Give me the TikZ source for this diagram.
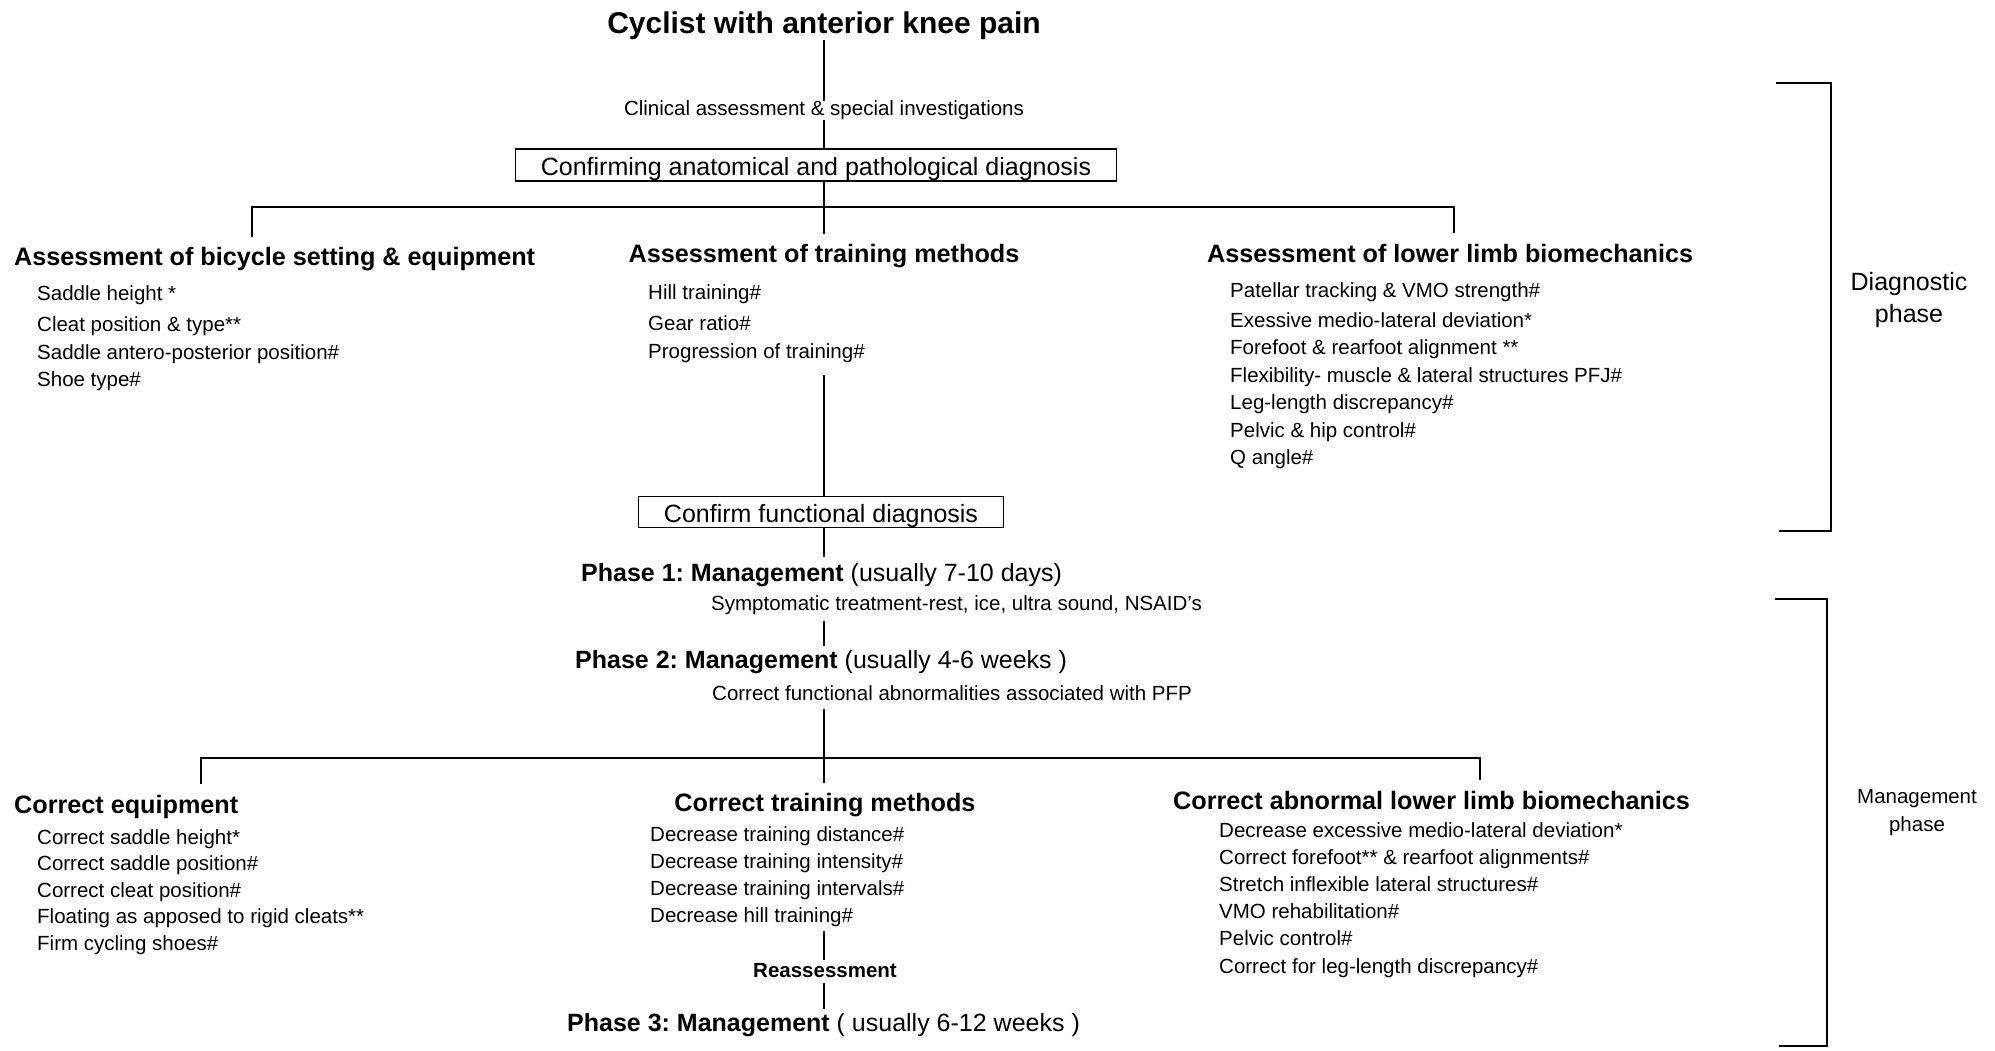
\documentclass[tikz,border=0pt]{standalone}
\usepackage{fontspec}
\setmainfont{Liberation Sans}
\usetikzlibrary{positioning}
\frenchspacing

\begin{document}
\begin{tikzpicture}[
        x=1pt, y=-1pt,
        maintitle/.style={font=\fontsize{30}{36}\selectfont\bfseries, inner sep=0pt, yshift=-2.5pt},
        secthead/.style={font=\fontsize{25.2}{30}\selectfont\bfseries, inner sep=0pt, outer ysep=11pt, yshift=-2.5pt},
        itemlist/.style={font=\fontsize{20.5}{27.5}\selectfont, align=left, inner sep=0pt, anchor=north west, yshift=-2pt},
        diagbox/.style={rectangle, draw, line width=1.6pt, font=\fontsize{25}{30}\selectfont, inner sep=0pt, text height=23pt, text depth=2pt},
        phasetext/.style={font=\fontsize{25}{30}\selectfont, inner sep=0pt, anchor=west, yshift=-2.5pt},
        note/.style={font=\fontsize{20.5}{24}\selectfont, inner sep=0pt, yshift=-2.5pt},
        sidelabel/.style={align=center, inner sep=0pt, yshift=-3pt},
        conn/.style={line width=1.6pt}
    ]
        \fill[white] (0,0) rectangle (1995,1050);
        \useasboundingbox (0,0) rectangle (1995,1050);
        \coordinate (spine) at (824,0);

        % Diagnostic part
        \node[maintitle] (cyclist) at (824,23) {Cyclist with anterior knee pain};
        \node[note] (clinical) at (824,108) {Clinical assessment \& special investigations};
        \node[diagbox, minimum width=601pt, minimum height=32pt] (anatomical) at (816,165) {Confirming anatomical and pathological diagnosis};

        \node[secthead, anchor=west] (bikehead) at (14,257) {Assessment of bicycle setting \& equipment};
        \node[secthead] (trainhead) at (824,254) {Assessment of training methods};
        \node[secthead, anchor=west] (limbhead) at (1207,251) {Assessment of lower limb biomechanics};

        \node[itemlist] (bikelist) at (37,283) {Saddle height *\\[4pt] Cleat position \& type**\\ Saddle antero-posterior position\#\\ Shoe type\#};
        \node[itemlist] (trainlist) at (648,282) {Hill training\#\\[4pt] Gear ratio\#\\ Progression of training\#};
        \node[itemlist] (limblist) at (1230,280) {Patellar tracking \& VMO strength\#\\[2.5pt] Exessive medio-lateral deviation*\\ Forefoot \& rearfoot alignment **\\ Flexibility- muscle \& lateral structures PFJ\#\\ Leg-length discrepancy\#\\ Pelvic \& hip control\#\\ Q angle\#};

        \node[diagbox, minimum width=365pt, minimum height=31pt] (functional) at (821,512) {Confirm functional diagnosis};

        % Management part
        \node[phasetext] (phaseone) at (581,573) {\textbf{Phase 1: Management} (usually 7-10 days)};
        \node[note, anchor=west] (symptoms) at (711,603) {Symptomatic treatment-rest, ice, ultra sound, NSAID's};
        \node[phasetext] (phasetwo) at (575,660) {\textbf{Phase 2: Management} (usually 4-6 weeks )};
        \node[note, anchor=west] (abnormal) at (712,691) {Correct functional abnormalities associated with PFP};

        \node[secthead, anchor=west] (equiphead) at (14,804) {Correct equipment};
        \node[secthead] (methodhead) at (825,803) {Correct training methods};
        \node[secthead, anchor=west] (biohead) at (1173,798) {Correct abnormal lower limb biomechanics};

        \node[itemlist, font=\fontsize{20.5}{26.5}\selectfont] (equiplist) at (37,827) {Correct saddle height*\\ Correct saddle position\#\\ Correct cleat position\#\\ Floating as apposed to rigid cleats**\\ Firm cycling shoes\#};
        \node[itemlist, font=\fontsize{20.5}{27.3}\selectfont] (methodlist) at (650,824) {Decrease training distance\#\\ Decrease training intensity\#\\ Decrease training intervals\#\\ Decrease hill training\#};
        \node[itemlist, font=\fontsize{20.5}{27.2}\selectfont] (biolist) at (1219,820) {Decrease excessive medio-lateral deviation*\\ Correct forefoot** \& rearfoot alignments\#\\ Stretch inflexible lateral structures\#\\ VMO rehabilitation\#\\ Pelvic control\#\\ Correct for leg-length discrepancy\#};

        \node[note, font=\fontsize{20.5}{24}\selectfont\bfseries] (reassess) at (825,968) {Reassessment};
        \node[phasetext] (phasethree) at (567,1023) {\textbf{Phase 3: Management} ( usually 6-12 weeks )};

        % Phase labels
        \node[sidelabel, font=\fontsize{25}{32}\selectfont] (diagphase) at (1909,297) {Diagnostic\\phase};
        \node[sidelabel, font=\fontsize{20.5}{28}\selectfont] (mgmtphase) at (1917,810) {Management\\phase};

        % Connectors
        \coordinate (bikedrop) at (252,207);
        \coordinate (limbdrop) at (1454,207);
        \coordinate (equipdrop) at (201,758);
        \coordinate (biodrop) at (1480,758);

        \draw[conn] (cyclist) -- (clinical);
        \draw[conn] (clinical) -- (clinical |- anatomical.north);
        \draw[conn] (anatomical.south -| spine) -- (trainhead.north -| spine);
        \draw[conn] (bikedrop |- bikehead.north) -- (bikedrop) -- (limbdrop) -- (limbdrop |- limbhead.north);
        \draw[conn, shorten <=12pt] (trainlist.south -| spine) -- (functional.north -| spine);
        \draw[conn, shorten >=7pt] (functional.south -| spine) -- (phaseone.north -| spine);
        \draw[conn, shorten <=6pt, shorten >=5pt] (symptoms.south -| spine) -- (phasetwo.north -| spine);
        \draw[conn, shorten <=8pt] (abnormal.south -| spine) -- (methodhead.north -| spine);
        \draw[conn] (equipdrop |- equiphead.north) -- (equipdrop) -- (biodrop) -- (biodrop |- biohead.north);
        \draw[conn, shorten <=4pt, shorten >=3pt] (methodlist.south -| spine) -- (reassess.north -| spine);
        \draw[conn, shorten <=5pt, shorten >=5pt] (reassess.south -| spine) -- (phasethree.north -| spine);

        % Phase brackets
        \coordinate (diagtop) at (1776,83);
        \coordinate (diagbot) at (1779,531);
        \coordinate (mgmttop) at (1775,599);
        \coordinate (mgmtbot) at (1779,1046);
        \draw[conn] (diagtop) -- ++(55,0) |- (diagbot);
        \draw[conn] (mgmttop) -- ++(52,0) |- (mgmtbot);

    \end{tikzpicture}
\end{document}
